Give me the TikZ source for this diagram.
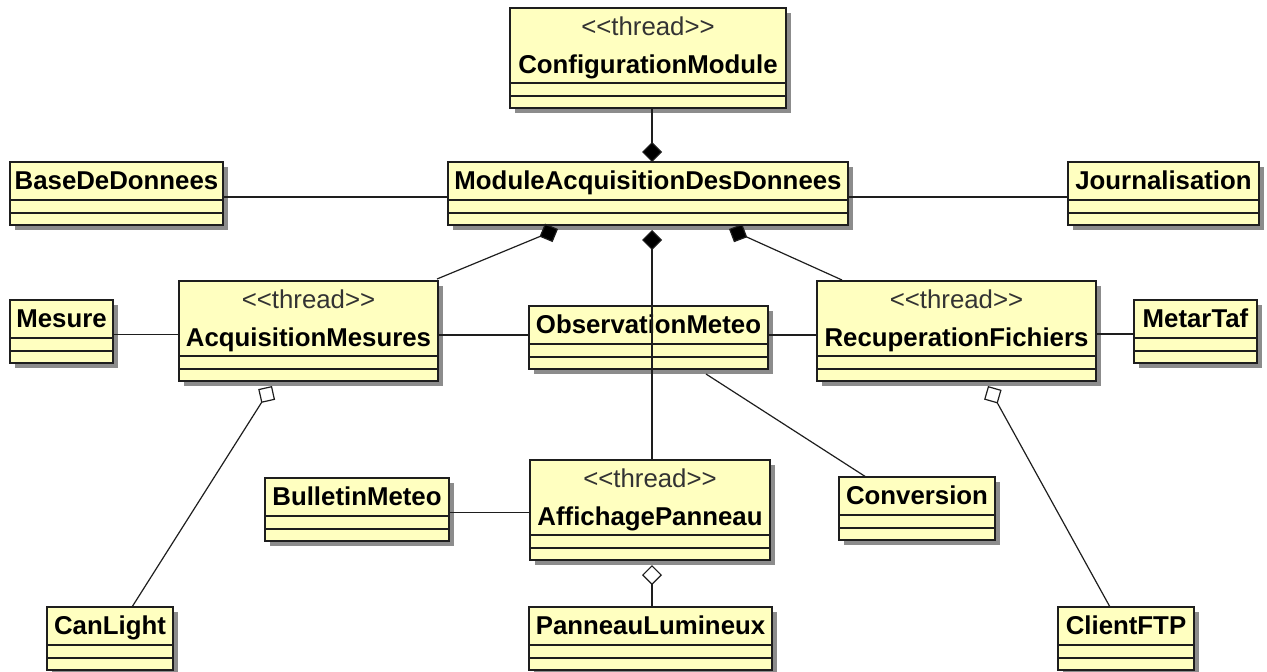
\documentclass[tikz,border=0pt]{standalone}
\usepackage{fontspec}
\setmainfont{Liberation Sans}
\usetikzlibrary{arrows.meta,shadows}
\definecolor{clsfill}{RGB}{255,255,192}
\definecolor{ln}{RGB}{30,30,30}
\tikzset{
  cls/.style={draw=ln, line width=1.8pt, fill=clsfill, rectangle, inner sep=0pt, outer sep=0pt, anchor=north west,
    drop shadow={shadow xshift=5pt, shadow yshift=-5pt, fill=black, opacity=0.45}},
  clsname/.style={font=\fontsize{25.8}{28}\selectfont\bfseries, inner sep=0pt, anchor=base, text=black},
  stereo/.style={font=\fontsize{25.8}{28}\selectfont, inner sep=0pt, anchor=base, text=black!80},
  divider/.style={draw=ln, line width=1.6pt},
  conn/.style={draw=ln, line width=1.2pt},
  comp/.style={conn, -{Diamond[length=20pt,width=20pt,fill=black]}},
  aggr/.style={conn, -{Diamond[length=20pt,width=20pt,fill=white]}},
}
\newcommand{\umlsimple}[5]{% id, x, y, w, name
  \node[cls, minimum width=#4pt, minimum height=63pt] (#1) at (#2,#3) {};
  \node[clsname] (#1-n) at ([yshift=-27pt]#1.north) {#5};
  \draw[divider] ([yshift=25pt]#1.south west) -- ([yshift=25pt]#1.south east);
  \draw[divider] ([yshift=12pt]#1.south west) -- ([yshift=12pt]#1.south east);
}
\newcommand{\umlthread}[5]{% id, x, y, w, name
  \node[cls, minimum width=#4pt, minimum height=100pt] (#1) at (#2,#3) {};
  \node[stereo] (#1-s) at ([yshift=-27pt]#1.north) {<\kern0pt<thread>\kern0pt>};
  \node[clsname] (#1-n) at ([yshift=-65pt]#1.north) {#5};
  \draw[divider] ([yshift=25pt]#1.south west) -- ([yshift=25pt]#1.south east);
  \draw[divider] ([yshift=12pt]#1.south west) -- ([yshift=12pt]#1.south east);
}
\begin{document}
\begin{tikzpicture}[x=1pt,y=-1pt]
\useasboundingbox (0,0) rectangle (1267,672);
\umlthread{config}{510}{8}{276}{ConfigurationModule}
\umlsimple{module}{448}{162}{400}{ModuleAcquisitionDesDonnees}
\umlsimple{base}{10}{162}{213}{BaseDeDonnees}
\umlsimple{journ}{1068}{162}{191}{Journalisation}
\umlsimple{mesure}{10}{300}{103}{Mesure}
\umlthread{acqm}{179}{281}{259}{AcquisitionMesures}
\umlsimple{obs}{529}{306}{239}{ObservationMeteo}
\umlthread{recup}{817}{281}{279}{RecuperationFichiers}
\umlsimple{metar}{1134}{300}{123}{MetarTaf}
\umlsimple{bulletin}{265}{478}{184}{BulletinMeteo}
\umlthread{affich}{530}{460}{240}{AffichagePanneau}
\umlsimple{conv}{839}{477}{156}{Conversion}
\umlsimple{canlight}{47}{607}{126}{CanLight}
\umlsimple{panneau}{529}{607}{243}{PanneauLumineux}
\umlsimple{clientftp}{1058}{607}{136}{ClientFTP}

\coordinate (mL) at (558,229);
\coordinate (mR) at (729,229);
\coordinate (obsC) at (706,374);
\coordinate (aL) at (272,386);
\coordinate (aR) at (988,386);

% compositions
\draw[comp] ([xshift=4pt]config.south) -- ([xshift=4pt]module.north);
\draw[comp] ([xshift=2pt]affich.north) -- ([xshift=4pt,yshift=-5pt]module.south);
\draw[comp] ([xshift=-1pt,yshift=2pt]acqm.north east) -- (mL);
\draw[comp] ([xshift=25pt,yshift=1pt]recup.north west) -- (mR);
% aggregations
\draw[aggr] ([xshift=85pt]canlight.north west) -- (aL);
\draw[aggr] ([xshift=52pt]clientftp.north west) -- (aR);
\draw[aggr] ([xshift=1.5pt]panneau.north) -- ([xshift=2pt,yshift=-5pt]affich.south);
% associations
\draw[conn] ([yshift=-3.5pt]base.east) -- ([yshift=-3.5pt]module.west);
\draw[conn] ([yshift=-3.5pt]module.east) -- ([yshift=-3.5pt]journ.west);
\draw[conn] ([yshift=-3pt]mesure.east) -- ([yshift=-3pt]mesure.east -| acqm.west);
\draw[conn] ([yshift=-4pt]acqm.east) -- ([yshift=-4pt]acqm.east -| obs.west);
\draw[conn] ([yshift=-4pt]recup.west -| obs.east) -- ([yshift=-4pt]recup.west);
\draw[conn] ([yshift=-3pt]recup.east) -- ([yshift=-3pt]recup.east -| metar.west);
\draw[conn] ([yshift=-3pt]bulletin.east) -- ([yshift=-3pt]bulletin.east -| affich.west);
\draw[conn] (obsC) -- ([xshift=27pt]conv.north west);
\end{tikzpicture}
\end{document}
